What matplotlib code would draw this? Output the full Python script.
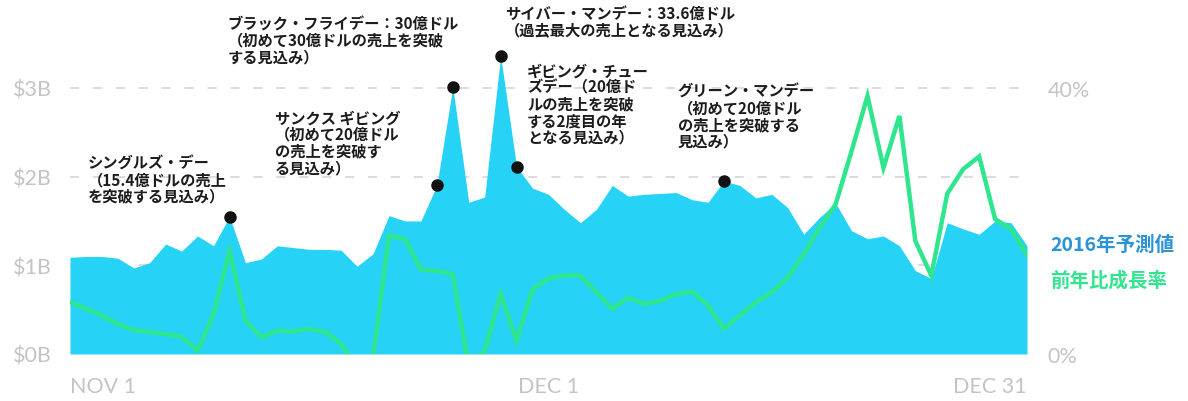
import matplotlib
matplotlib.use('Agg')
import matplotlib.pyplot as plt

# ---------------- data ----------------
days = list(range(61))  # Nov 1 .. Dec 31
sales_2016 = [1.09, 1.10, 1.10, 1.08, 0.97, 1.03, 1.24, 1.16, 1.33, 1.22,
              1.55, 1.03, 1.07, 1.22, 1.20, 1.18, 1.18, 1.17, 0.99, 1.13,
              1.56, 1.50, 1.50, 1.90, 3.01, 1.71, 1.77, 3.36, 2.11, 1.87,
              1.80, 1.63, 1.48, 1.63, 1.90, 1.78, 1.80, 1.81, 1.82, 1.74,
              1.71, 1.95, 1.90, 1.76, 1.80, 1.65, 1.35, 1.54, 1.70, 1.39,
              1.30, 1.33, 1.22, 0.94, 0.85, 1.48, 1.41, 1.35, 1.50, 1.48, 1.22]
yoy_growth = [7.8, 6.8, 5.8, 4.5, 3.6, 3.3, 3.0, 2.6, 0.5, 6.0,
              15.5, 5.0, 2.5, 3.5, 3.4, 3.8, 3.3, 1.5, -2.0, -0.5,
              17.8, 17.3, 12.7, 12.5, 12.0, -2.0, 0.5, 9.0, 2.0, 9.7,
              11.4, 11.8, 11.8, 9.3, 6.8, 8.5, 7.5, 8.0, 9.0, 9.4,
              7.3, 3.8, 5.8, 7.8, 9.3, 11.5, 15.0, 19.0, 22.5, 30.5,
              38.8, 28.0, 35.8, 17.0, 11.8, 24.1, 27.8, 29.7, 20.3, 18.8, 14.8]

left_ticks = [0, 1, 2, 3]
left_labels = ['\\$0B', '\\$1B', '\\$2B', '\\$3B']
right_ticks = [0, 40]
right_labels = ['0%', '40%']
x_ticks = [0, 30, 60]
x_labels = ['NOV 1', 'DEC 1', 'DEC 31']

event_days = [10, 23, 24, 27, 28, 41]
event_texts = [
    "シングルズ・デー\n（15.4億ドルの売上\nを突破する見込み）",
    "サンクス ギビング\n（初めて20億ドル\nの売上を突破す\nる見込み）",
    "ブラック・フライデー：30億ドル\n（初めて30億ドルの売上を突破\nする見込み）",
    "サイバー・マンデー：33.6億ドル\n（過去最大の売上となる見込み）",
    "ギビング・チュー\nズデー（20億ド\nルの売上を突破\nする2度目の年\nとなる見込み）",
    "グリーン・マンデー\n（初めて20億ドル\nの売上を突破する\n見込み）",
]
# text block top-left anchor (day, $B)
event_text_pos = [(1.13, 2.25), (12.85, 2.76), (9.9, 3.82),
                  (27.27, 3.94), (28.65, 3.29), (38.1, 3.06)]

legend_labels = ['2016年予測値', '前年比成長率']

# ---------------- style ----------------
AREA = '#26D3F6'
GREEN = '#2FE68E'
BLUE_TXT = '#2B93D6'
GRID = '#d2d2d2'
TICK = '#c4c4c4'

plt.rcParams['font.family'] = ['Noto Sans CJK JP', 'DejaVu Sans']

W, H = 1188, 402
fig = plt.figure(figsize=(W / 100, H / 100), dpi=100)
x0, x1 = 70, 1027
ybot = 355
ax = fig.add_axes([x0 / W, (H - ybot) / H, (x1 - x0) / W, ybot / H])
ax.set_xlim(0, 60)
ax.set_ylim(0, ybot / 88.7)

for v in [1, 2, 3]:
    ax.axhline(v, color=GRID, lw=1.1, ls=(0, (6, 9)), zorder=0)

ax.fill_between(days, sales_2016, 0, color=AREA, lw=0, zorder=1)
ax.plot(event_days, [sales_2016[d] for d in event_days], 'o',
        color='#111111', ms=8, zorder=5)

for sp in ax.spines.values():
    sp.set_visible(False)

ax.set_yticks(left_ticks)
ax.set_yticklabels(left_labels)
ax.tick_params(axis='y', length=0, pad=13, labelsize=15.5, labelcolor=TICK)
for t in ax.get_yticklabels():
    t.set_fontfamily('Lato')

ax.set_xticks(x_ticks)
ax.set_xticklabels(x_labels)
ax.tick_params(axis='x', length=0, pad=16, labelsize=15.5, labelcolor=TICK)
xl = ax.get_xticklabels()
for t in xl:
    t.set_fontfamily('Lato')
xl[0].set_ha('left')
xl[2].set_ha('right')

ax2 = ax.twinx()
ax2.set_ylim(0, ybot / 6.65)
ax2.plot(days, yoy_growth, color=GREEN, lw=3.2, solid_joinstyle='miter',
         zorder=3)
for sp in ax2.spines.values():
    sp.set_visible(False)
ax2.set_yticks(right_ticks)
ax2.set_yticklabels(right_labels)
ax2.tick_params(axis='y', length=0, pad=15, labelsize=15.5, labelcolor=TICK)
for t in ax2.get_yticklabels():
    t.set_fontfamily('Lato')

for txt, (px, py) in zip(event_texts, event_text_pos):
    ax2.text(px, py, txt, transform=ax.transData, ha='left', va='top',
             fontsize=11, fontweight='bold', color='#1c1c1c',
             linespacing=1.05, zorder=10)

fig.text(1050 / W, (H - 245) / H, legend_labels[0], color=BLUE_TXT,
         fontsize=14, fontweight='bold', ha='left', va='center')
fig.text(1050 / W, (H - 281) / H, legend_labels[1], color=GREEN,
         fontsize=14, fontweight='bold', ha='left', va='center')

fig.savefig('out.png', dpi=100)
